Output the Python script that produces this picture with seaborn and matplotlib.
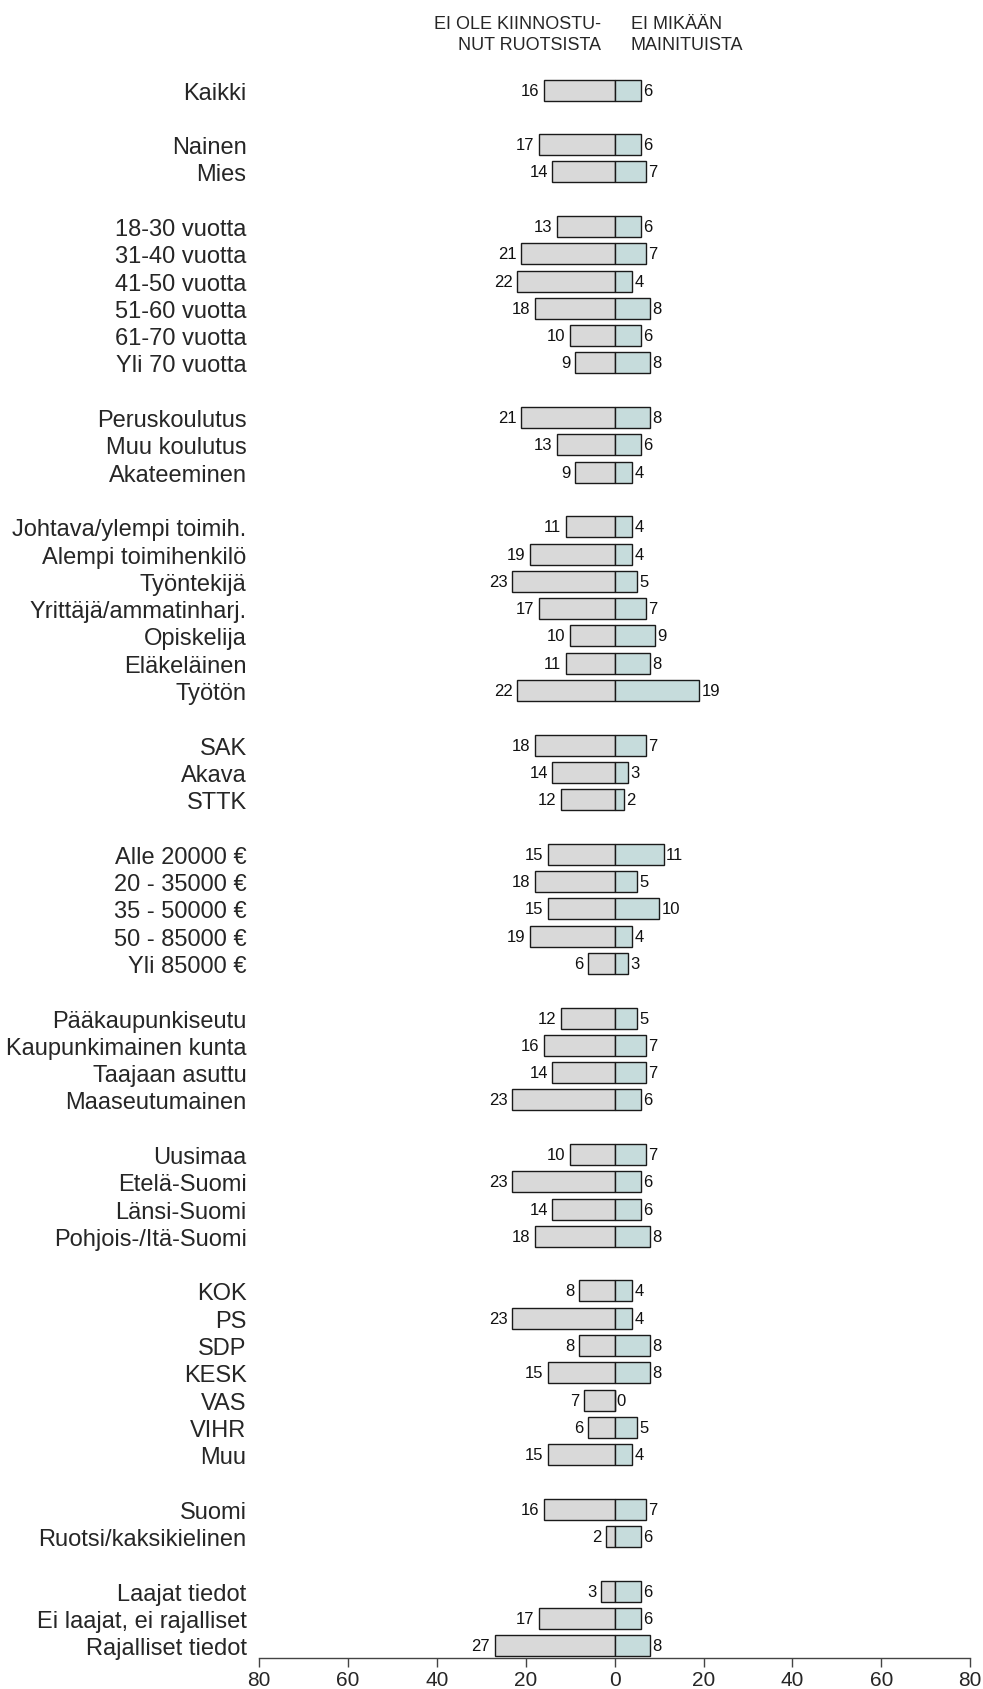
import matplotlib
matplotlib.use("Agg")
import matplotlib.pyplot as plt
from matplotlib import font_manager
import seaborn as sns
import pandas as pd

# groups of respondent categories, one blank row between groups
groups = [
    ["Kaikki"],
    ["Nainen", "Mies"],
    ["18-30 vuotta", "31-40 vuotta", "41-50 vuotta", "51-60 vuotta", "61-70 vuotta", "Yli 70 vuotta"],
    ["Peruskoulutus", "Muu koulutus", "Akateeminen"],
    ["Johtava/ylempi toimih.", "Alempi toimihenkilö", "Työntekijä", "Yrittäjä/ammatinharj.",
     "Opiskelija", "Eläkeläinen", "Työtön"],
    ["SAK", "Akava", "STTK"],
    ["Alle 20000 €", "20 - 35000 €", "35 - 50000 €", "50 - 85000 €", "Yli 85000 €"],
    ["Pääkaupunkiseutu", "Kaupunkimainen kunta", "Taajaan asuttu", "Maaseutumainen"],
    ["Uusimaa", "Etelä-Suomi", "Länsi-Suomi", "Pohjois-/Itä-Suomi"],
    ["KOK", "PS", "SDP", "KESK", "VAS", "VIHR", "Muu"],
    ["Suomi", "Ruotsi/kaksikielinen"],
    ["Laajat tiedot", "Ei laajat, ei rajalliset", "Rajalliset tiedot"],
]

# "Ei ole kiinnostunut ruotsista" (left side)
not_interested = [16,
                  17, 14,
                  13, 21, 22, 18, 10, 9,
                  21, 13, 9,
                  11, 19, 23, 17, 10, 11, 22,
                  18, 14, 12,
                  15, 18, 15, 19, 6,
                  12, 16, 14, 23,
                  10, 23, 14, 18,
                  8, 23, 8, 15, 7, 6, 15,
                  16, 2,
                  3, 17, 27]

# "Ei mikään mainituista" (right side)
none_mentioned = [6,
                  6, 7,
                  6, 7, 4, 8, 6, 8,
                  8, 6, 4,
                  4, 4, 5, 7, 9, 8, 19,
                  7, 3, 2,
                  11, 5, 10, 4, 3,
                  5, 7, 7, 6,
                  7, 6, 6, 8,
                  4, 4, 8, 8, 0, 5, 4,
                  7, 6,
                  6, 6, 8]

labels, pos = [], []
p = 0
for g in groups:
    for name in g:
        labels.append(name)
        pos.append(p)
        p += 1
    p += 1
last_pos = pos[-1]

df = pd.DataFrame({"label": labels, "pos": pos,
                   "left": [-v for v in not_interested], "right": none_mentioned})

installed = {f.name for f in font_manager.fontManager.ttflist}
base_font = "Liberation Sans" if "Liberation Sans" in installed else "DejaVu Sans"

sns.set_style("white")
plt.rcParams["font.family"] = [base_font, "DejaVu Sans"]

grey = "#d9d9d9"
teal = "#c6dcdc"
edge = "#1a1a1a"

fig = plt.figure(figsize=(9.83, 16.9), dpi=100)
ax = fig.add_axes([0.2635, 0.0183, 0.7235, 0.9359])

sns.barplot(data=df, x="left", y="pos", orient="h", native_scale=True, color=grey,
            saturation=1, width=0.77, edgecolor=edge, linewidth=1, ax=ax)
sns.barplot(data=df, x="right", y="pos", orient="h", native_scale=True, color=teal,
            saturation=1, width=0.77, edgecolor=edge, linewidth=1, ax=ax)

# value labels
for _, r in df.iterrows():
    ax.text(r["left"] - 1.0, r["pos"], str(-r["left"]), ha="right", va="center",
            fontsize=12, color="#111111")
    ax.text(r["right"] + 0.5, r["pos"], str(r["right"]), ha="left", va="center",
            fontsize=12, color="#111111")

ax.set_xlim(-80, 80)
ax.set_ylim(last_pos + 0.45, -0.5)
ax.set_xticks(range(-80, 81, 20))
ax.set_xticklabels([str(abs(v)) for v in range(-80, 81, 20)], fontsize=15)
ax.set_yticks(pos)
ax.set_yticklabels(labels, fontsize=17)
ax.tick_params(axis="y", left=False, length=0, pad=9)
ax.tick_params(axis="x", bottom=True, length=6.5, width=1, color="#444444",
               direction="out", pad=2)
ax.set_xlabel("")
ax.set_ylabel("")
for s in ["top", "right", "left"]:
    ax.spines[s].set_visible(False)
ax.spines["bottom"].set_color("#444444")
ax.spines["bottom"].set_linewidth(1)

# column headers
fig.text(601 / 983, 1 - 16 / 1690, "EI OLE KIINNOSTU-\nNUT RUOTSISTA", ha="right", va="top",
         fontsize=13, linespacing=1.3, multialignment="right")
fig.text(631 / 983, 1 - 16 / 1690, "EI MIKÄÄN\nMAINITUISTA", ha="left", va="top",
         fontsize=13, linespacing=1.3)

fig.savefig("out.png", dpi=100)
